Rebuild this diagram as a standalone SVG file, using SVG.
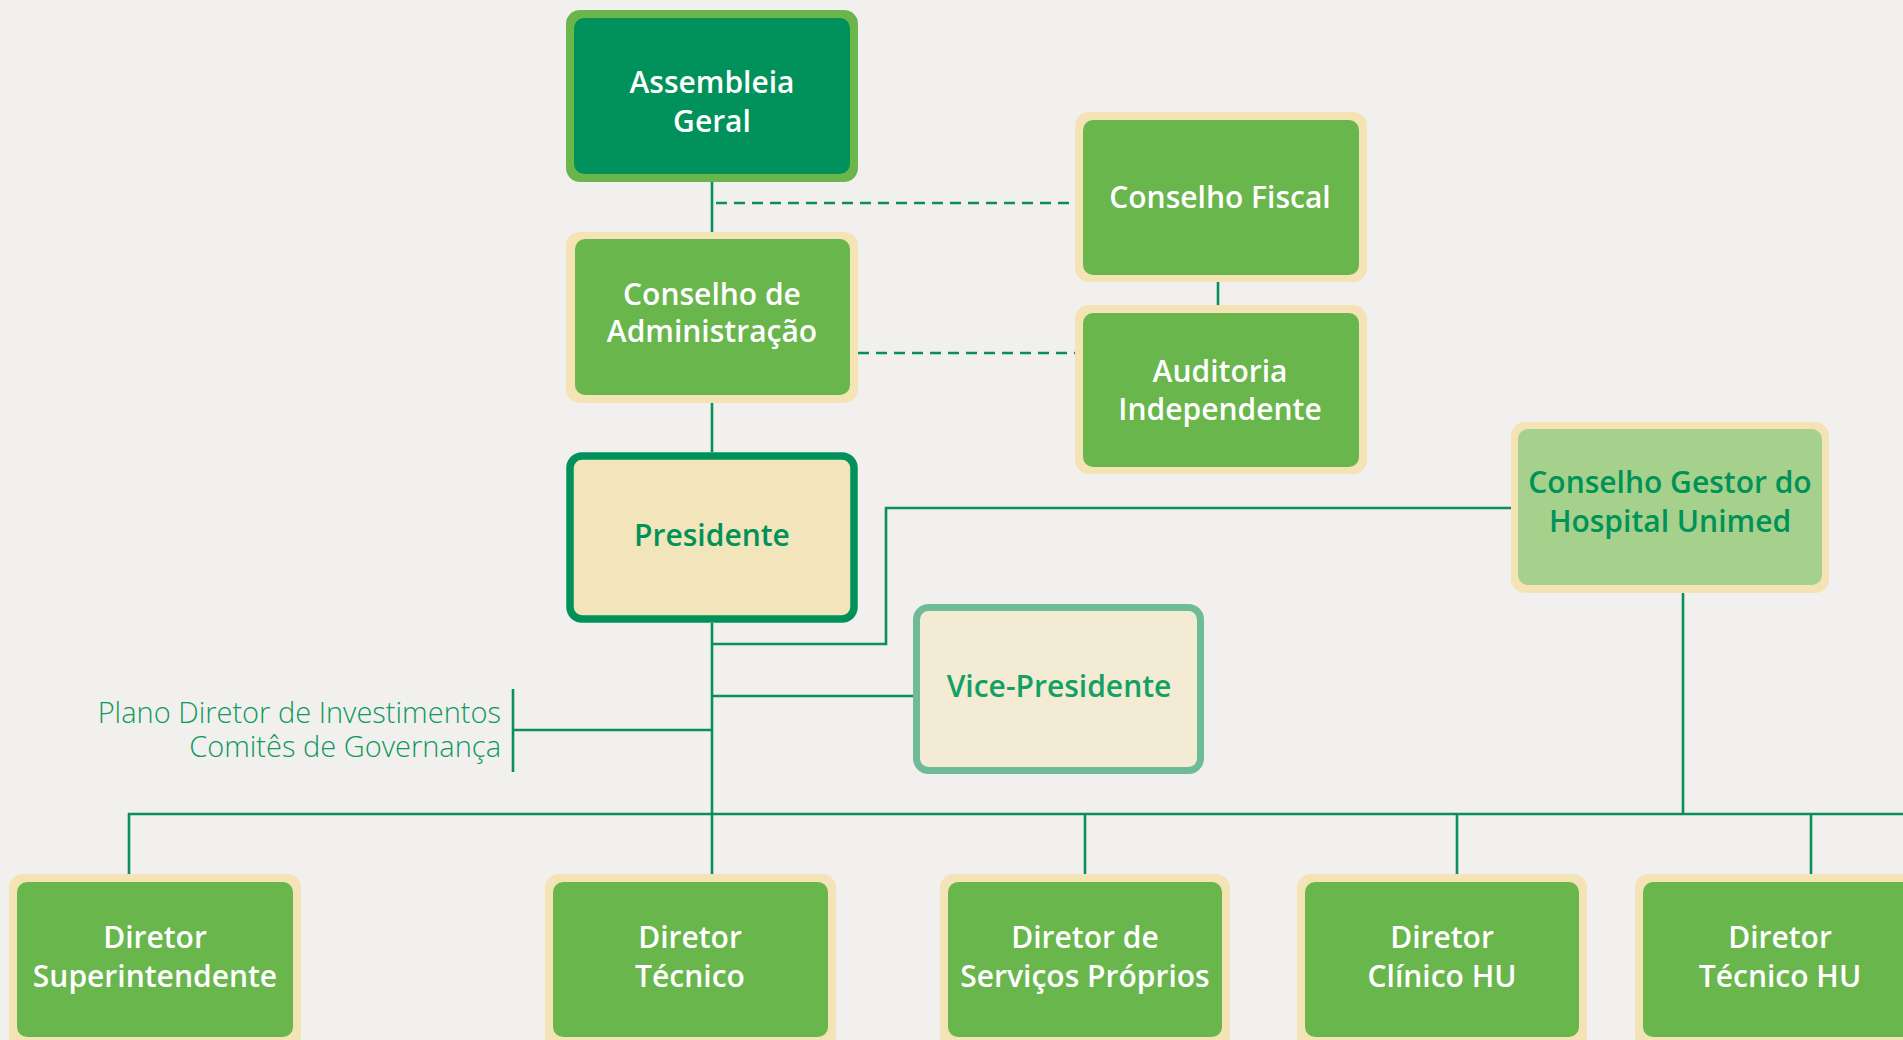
<svg xmlns="http://www.w3.org/2000/svg" width="1903" height="1040" viewBox="0 0 1903 1040">
<style>
.ln{stroke:#0a8f58;stroke-width:2.6;fill:none}
.dash{stroke:#0a8f58;stroke-width:2.6;fill:none;stroke-dasharray:11 7}
.cream{fill:#f3e3b5}
.mid{fill:#69b64d}
.t{font-family:"Open Sans","Noto Sans",sans-serif;font-weight:600;font-size:30px;text-anchor:middle}
.w{fill:#ffffff}
.g{fill:#009257}
.side{font-family:"Open Sans","Noto Sans",sans-serif;font-weight:300;font-size:29px;fill:#0f9a5a;text-anchor:end}
</style>
<rect width="1903" height="1040" fill="#f1f0ee"/>
<g id="connectors">
<line class="ln" x1="712" y1="182" x2="712" y2="232"/>
<line class="dash" x1="716" y1="203" x2="1075" y2="203"/>
<line class="ln" x1="1218" y1="282" x2="1218" y2="305"/>
<line class="dash" x1="858" y1="353" x2="1075" y2="353"/>
<line class="ln" x1="712" y1="403" x2="712" y2="452"/>
<line class="ln" x1="712" y1="623" x2="712" y2="874"/>
<polyline class="ln" points="712,644 886,644 886,508 1511,508"/>
<line class="ln" x1="712" y1="696" x2="913" y2="696"/>
<line class="ln" x1="513" y1="730" x2="712" y2="730"/>
<line class="ln" x1="513" y1="689" x2="513" y2="772"/>
<line class="ln" x1="1683" y1="593" x2="1683" y2="814"/>
<line class="ln" x1="128" y1="814" x2="1903" y2="814"/>
<line class="ln" x1="129" y1="813" x2="129" y2="874"/>
<line class="ln" x1="1085" y1="814" x2="1085" y2="874"/>
<line class="ln" x1="1457" y1="814" x2="1457" y2="874"/>
<line class="ln" x1="1811" y1="814" x2="1811" y2="874"/>
</g>
<g id="assembleia">
<rect x="566" y="10" width="292" height="172" rx="14" fill="#69b64d"/>
<rect x="574" y="18" width="276" height="156" rx="10" fill="#00925a"/>
<text class="t w" x="712" y="93" font-size="32">Assembleia</text>
<text class="t w" x="712" y="132" font-size="32">Geral</text>
</g>
<g id="conselho-fiscal">
<rect class="cream" x="1075" y="112" width="292" height="170" rx="14"/>
<rect class="mid" x="1083" y="120" width="276" height="155" rx="10"/>
<text class="t w" x="1220" y="208" font-size="31">Conselho Fiscal</text>
</g>
<g id="conselho-adm">
<rect class="cream" x="566" y="232" width="292" height="171" rx="14"/>
<rect class="mid" x="575" y="239" width="275" height="156" rx="10"/>
<text class="t w" x="712" y="305">Conselho de</text>
<text class="t w" x="712" y="342">Administração</text>
</g>
<g id="auditoria">
<rect class="cream" x="1075" y="305" width="292" height="169" rx="14"/>
<rect class="mid" x="1083" y="313" width="276" height="154" rx="10"/>
<text class="t w" x="1220" y="382">Auditoria</text>
<text class="t w" x="1220" y="420">Independente</text>
</g>
<g id="presidente">
<rect x="570" y="456" width="284" height="163" rx="12" fill="#f2e4bb" stroke="#00925a" stroke-width="7.5"/>
<text class="t g" x="712" y="546" font-size="32">Presidente</text>
</g>
<g id="vice-presidente">
<rect x="916.5" y="607.5" width="284" height="163" rx="12" fill="#f3ebd3" stroke="#6fbb97" stroke-width="7"/>
<text class="t" x="1059" y="697" font-size="32.5" fill="#13a063">Vice-Presidente</text>
</g>
<g id="conselho-gestor">
<rect class="cream" x="1511" y="422" width="318" height="171" rx="14"/>
<rect x="1518" y="429" width="304" height="156" rx="10" fill="#a6d18d"/>
<text class="t g" x="1670" y="493" font-size="31">Conselho Gestor do</text>
<text class="t g" x="1670" y="532" font-size="31">Hospital Unimed</text>
</g>
<g id="plano-diretor">
<text class="side" x="501" y="723">Plano Diretor de Investimentos</text>
<text class="side" x="501" y="757">Comitês de Governança</text>
</g>
<g id="diretor-superintendente">
<rect class="cream" x="9" y="874" width="292" height="175" rx="14"/>
<rect class="mid" x="17" y="882" width="276" height="155" rx="10"/>
<text class="t w" x="155" y="948">Diretor</text>
<text class="t w" x="155" y="987">Superintendente</text>
</g>
<g id="diretor-tecnico">
<rect class="cream" x="545" y="874" width="291" height="175" rx="14"/>
<rect class="mid" x="553" y="882" width="275" height="155" rx="10"/>
<text class="t w" x="690" y="948">Diretor</text>
<text class="t w" x="690" y="987">Técnico</text>
</g>
<g id="diretor-servicos">
<rect class="cream" x="940" y="874" width="290" height="175" rx="14"/>
<rect class="mid" x="948" y="882" width="274" height="155" rx="10"/>
<text class="t w" x="1085" y="948">Diretor de</text>
<text class="t w" x="1085" y="987">Serviços Próprios</text>
</g>
<g id="diretor-clinico-hu">
<rect class="cream" x="1297" y="874" width="290" height="175" rx="14"/>
<rect class="mid" x="1305" y="882" width="274" height="155" rx="10"/>
<text class="t w" x="1442" y="948">Diretor</text>
<text class="t w" x="1442" y="987">Clínico HU</text>
</g>
<g id="diretor-tecnico-hu">
<rect class="cream" x="1635" y="874" width="292" height="175" rx="14"/>
<rect class="mid" x="1643" y="882" width="276" height="155" rx="10"/>
<text class="t w" x="1780" y="948">Diretor</text>
<text class="t w" x="1780" y="987">Técnico HU</text>
</g>
</svg>
